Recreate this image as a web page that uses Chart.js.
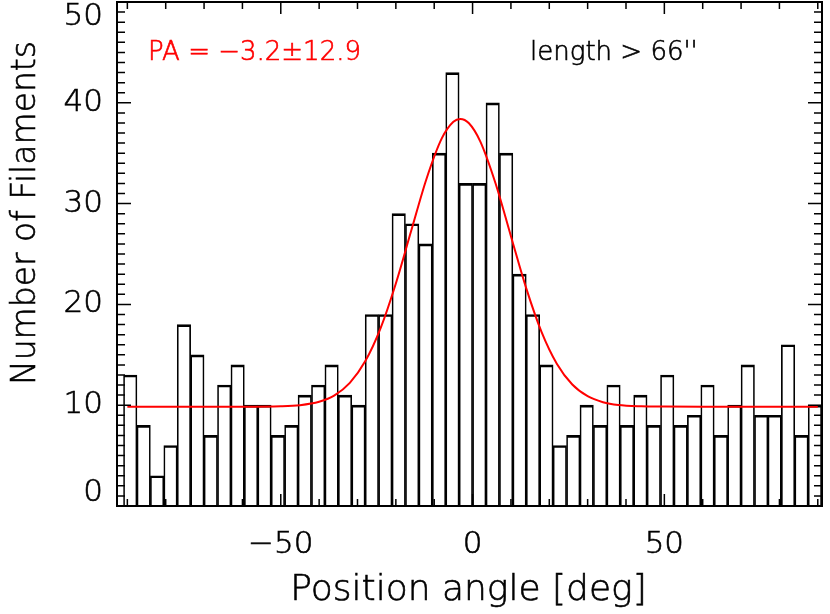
<!DOCTYPE html>
<html>
<head>
<meta charset="utf-8">
<script src="https://cdn.jsdelivr.net/npm/chart.js@4.4.1/dist/chart.umd.min.js"></script>
<style>
  html, body { margin: 0; padding: 0; background: #fff; }
  #wrap { width: 830px; height: 614px; }
</style>
</head>
<body>
<div id="wrap"><canvas id="chart"></canvas></div>
<script>
'use strict';

// Histogram of position angles, bins 3.5 deg wide from -91 to +91.
var binCenters = [
  -89.25, -85.75, -82.25, -78.75, -75.25, -71.75, -68.25, -64.75, -61.25,
  -57.75, -54.25, -50.75, -47.25, -43.75, -40.25, -36.75, -33.25, -29.75,
  -26.25, -22.75, -19.25, -15.75, -12.25, -8.75, -5.25, -1.75,
  1.75, 5.25, 8.75, 12.25, 15.75, 19.25, 22.75, 26.25, 29.75, 33.25,
  36.75, 40.25, 43.75, 47.25, 50.75, 54.25, 57.75, 61.25, 64.75, 68.25,
  71.75, 75.25, 78.75, 82.25, 85.75, 89.25
];
var counts = [
  13, 8, 3, 6, 18, 15, 7, 12, 14, 10, 10, 7, 8, 11, 12, 14, 11, 10,
  19, 19, 29, 28, 26, 35, 43, 32,
  32, 40, 35, 23, 19, 14, 6, 7, 10, 8, 12, 8, 11, 8, 13, 8, 9, 12,
  7, 10, 14, 9, 9, 16, 7, 10
];

// Gaussian fit (red curve).
var fitX = [-90, -60, -50, -45, -40, -36, -32, -28, -24, -20, -16, -12, -8, -5,
            -3.2, -1, 2, 6, 10, 14, 18, 22, 26, 30, 34, 38, 44, 50, 60, 90];
var fitY = [9.85, 9.85, 9.89, 10.0, 10.34, 10.97, 12.21, 14.35, 17.63, 22.08,
            27.30, 32.47, 36.49, 38.12, 38.40, 37.99, 36.17, 31.99, 26.77, 21.59,
            17.25, 14.09, 12.05, 10.89, 10.30, 10.02, 9.89, 9.86, 9.85, 9.85];

var xTickLabels = [-50, 0, 50];
var yTickLabels = [0, 10, 20, 30, 40, 50];
var xTitle = 'Position angle [deg]';
var yTitle = 'Number of Filaments';
var fitLabel = 'PA = \u22123.2\u00b112.9';
var lengthLabel = 'length > 66\'\'';

var FONT = '"DejaVu Sans", sans-serif';

function toPoints(xs, ys) {
  return xs.map(function(x, i) {
    return {x: x, y: ys[i]};
  });
}

// Thin font plus a light stroke comes closer to the IDL vector font.
function drawText(ctx, text, x, y, color) {
  ctx.fillStyle = color;
  ctx.strokeStyle = color;
  ctx.lineWidth = 0.6;
  ctx.fillText(text, x, y);
  ctx.strokeText(text, x, y);
}

// IDL style box: frame on all sides, ticks pointing inward, labels kept inside.
var idlFrame = {
  id: 'idlFrame',
  afterDraw: function(chart) {
    var ctx = chart.ctx;
    var a = chart.chartArea;
    var xs = chart.scales.x;
    var ys = chart.scales.y;
    var v, p, len;

    ctx.save();
    ctx.strokeStyle = '#000';
    ctx.lineWidth = 1.5;
    ctx.beginPath();
    for (v = -90; v <= 90; v += 10) {
      p = xs.getPixelForValue(v);
      len = v % 50 === 0 ? 12 : 7;
      ctx.moveTo(p, a.bottom);
      ctx.lineTo(p, a.bottom - len);
      ctx.moveTo(p, a.top);
      ctx.lineTo(p, a.top + len);
    }
    for (v = 0; v <= 50; v += 1) {
      p = ys.getPixelForValue(v);
      len = v % 10 === 0 ? 14 : 8;
      ctx.moveTo(a.left, p);
      ctx.lineTo(a.left + len, p);
      ctx.moveTo(a.right, p);
      ctx.lineTo(a.right - len, p);
    }
    ctx.stroke();

    ctx.lineWidth = 2;
    ctx.strokeRect(a.left, a.top, a.right - a.left, a.bottom - a.top);

    // y tick labels
    ctx.font = '200 31px ' + FONT;
    ctx.textAlign = 'right';
    ctx.textBaseline = 'middle';
    yTickLabels.forEach(function(t) {
      var py = ys.getPixelForValue(t);
      py = Math.max(a.top + 15, Math.min(a.bottom - 13, py));
      drawText(ctx, String(t), a.left - 14, py, '#000');
    });

    // axis titles
    ctx.textAlign = 'center';
    ctx.textBaseline = 'alphabetic';
    ctx.font = '200 36px ' + FONT;
    drawText(ctx, xTitle, (a.left + a.right) / 2 - 1, 600, '#000');

    ctx.save();
    ctx.translate(35, 213);
    ctx.rotate(-Math.PI / 2);
    ctx.font = '200 33px ' + FONT;
    drawText(ctx, yTitle, 0, 0, '#000');
    ctx.restore();

    // annotations
    ctx.textAlign = 'left';
    ctx.textBaseline = 'middle';
    ctx.font = '200 26px ' + FONT;
    drawText(ctx, fitLabel, xs.getPixelForValue(-84.6), ys.getPixelForValue(44.9), '#ff0000');
    drawText(ctx, lengthLabel, xs.getPixelForValue(15), ys.getPixelForValue(44.9), '#000');
    ctx.restore();
  }
};

var chart = new Chart(document.getElementById('chart'), {
  type: 'bar',
  data: {
    datasets: [
      {
        type: 'line',
        data: toPoints(fitX, fitY),
        borderColor: '#ff0000',
        borderWidth: 2,
        pointRadius: 0,
        fill: false,
        cubicInterpolationMode: 'monotone',
        order: 0
      },
      {
        type: 'bar',
        data: toPoints(binCenters, counts),
        backgroundColor: 'rgba(255,255,255,0)',
        borderColor: '#000',
        borderWidth: {top: 2, left: 1, right: 1, bottom: 0},
        borderSkipped: false,
        barPercentage: 1,
        categoryPercentage: 1,
        order: 1
      }
    ]
  },
  options: {
    responsive: true,
    maintainAspectRatio: false,
    animation: false,
    layout: {padding: {top: 2, right: 8, left: 0, bottom: 0}},
    plugins: {
      legend: {display: false},
      tooltip: {enabled: false}
    },
    scales: {
      x: {
        type: 'linear',
        offset: false,
        min: -92.7,
        max: 91.1,
        grid: {display: false, drawTicks: false},
        border: {display: false},
        ticks: {
          stepSize: 50,
          includeBounds: false,
          padding: 20,
          color: '#000',
          textStrokeColor: '#000',
          textStrokeWidth: 0.6,
          font: {family: FONT, size: 31, weight: 200},
          callback: function(value) {
            if (xTickLabels.indexOf(value) < 0) return null;
            return value < 0 ? '\u2212' + Math.abs(value) : String(value);
          }
        },
        afterFit: function(scale) {
          scale.height = 108;
          scale.paddingLeft = 0;
          scale.paddingRight = 0;
        }
      },
      y: {
        min: 0,
        max: 50,
        grid: {display: false, drawTicks: false},
        border: {display: false},
        ticks: {display: false, stepSize: 10},
        afterFit: function(scale) {
          scale.width = 117;
          scale.paddingTop = 0;
          scale.paddingBottom = 0;
        }
      }
    }
  },
  plugins: [idlFrame]
});
</script>
</body>
</html>
